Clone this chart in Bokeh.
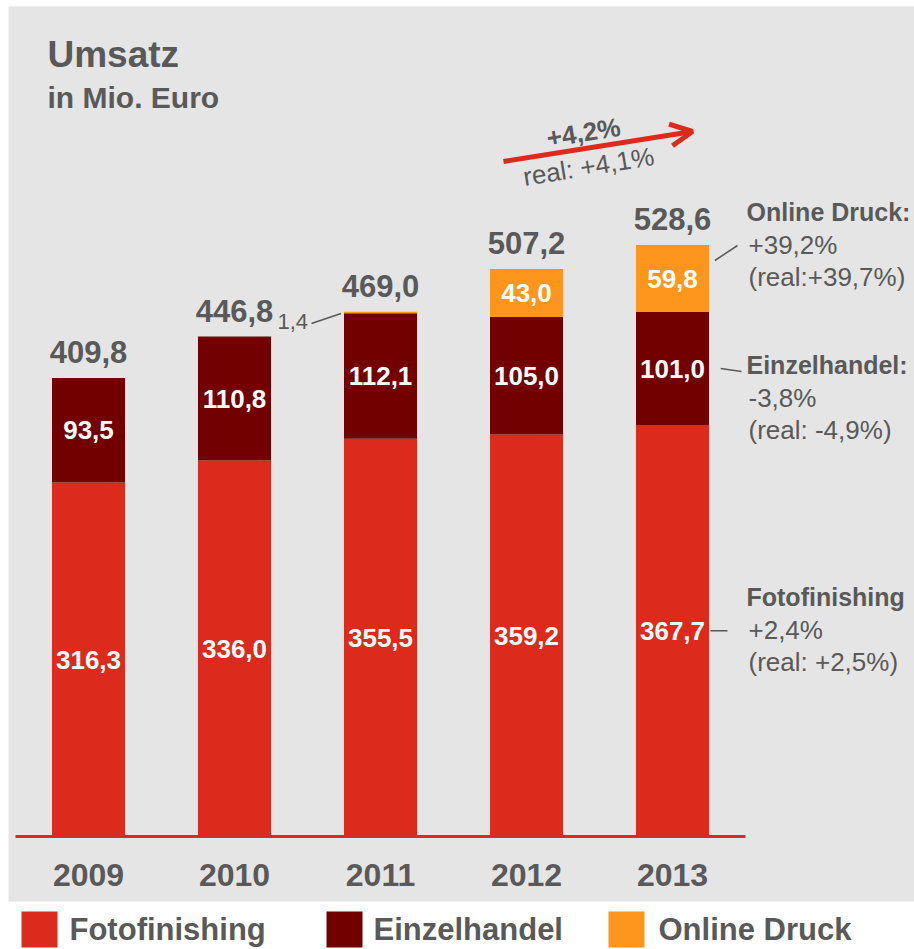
from bokeh.plotting import figure
from bokeh.models import Range1d, BoxAnnotation, Arrow, OpenHead, ColumnDataSource
from bokeh.core.properties import value
from bokeh.embed import file_html
from bokeh.resources import INLINE

# ---------------- data ----------------
years = ["2009", "2010", "2011", "2012", "2013"]
fotofinishing = [316.3, 336.0, 355.5, 359.2, 367.7]
einzelhandel = [93.5, 110.8, 112.1, 105.0, 101.0]
online_druck = [0.0, 0.0, 1.4, 43.0, 59.8]
totals = [409.8, 446.8, 469.0, 507.2, 528.6]
series_names = ["Fotofinishing", "Einzelhandel", "Online Druck"]
series_colors = ["#dc2a1c", "#720000", "#fe961e"]
growth_total = "+4,2%"
growth_total_real = "real: +4,1%"
growth_titles = ["Fotofinishing", "Einzelhandel:", "Online Druck:"]
growth = ["+2,4%", "-3,8%", "+39,2%"]
growth_real = ["(real: +2,5%)", "(real: -4,9%)", "(real:+39,7%)"]
title = "Umsatz"
subtitle = "in Mio. Euro"

# ---------------- geometry ----------------
W, H = 914, 949
PX_CAT = 146.0      # pixels per category step
PX_VAL = 1.119      # pixels per Mio. Euro
X0 = 88.0           # pixel x of first category centre
Y0 = 836.0          # pixel y of value 0
FONT = "Liberation Sans"
GRAY = "#595959"
RED = series_colors[0]


def px(xp):
    return (xp - X0) / PX_CAT


def py(yp):
    return (Y0 - yp) / PX_VAL


def fmt(v):
    return f"{v:.1f}".replace(".", ",")


p = figure(width=W, height=H,
           x_range=Range1d(px(0), px(W)), y_range=Range1d(py(H), py(0)),
           output_backend="svg", toolbar_location=None, min_border=0,
           x_axis_location=None, y_axis_location=None)
p.grid.visible = False
p.outline_line_color = None
p.background_fill_color = "white"
p.border_fill_color = "white"

p.add_layout(BoxAnnotation(left=px(8), top=py(6), bottom=py(901), fill_color="#e5e5e5",
                           fill_alpha=1.0, line_color=None, level="underlay"))

xs = list(range(len(years)))
src = ColumnDataSource(dict(x=xs, Fotofinishing=fotofinishing,
                            Einzelhandel=einzelhandel, **{"Online Druck": online_druck}))
p.vbar_stack(series_names, x="x", width=0.5, color=series_colors, line_color=None, source=src)

# baseline
p.segment(x0=[-0.5], y0=[0], x1=[len(years) - 0.5], y1=[0], line_color=RED, line_width=3)

# segment labels
lx, ly, lt = [], [], []
for i in xs:
    f, e, o = fotofinishing[i], einzelhandel[i], online_druck[i]
    lx.append(i); ly.append(f / 2); lt.append(fmt(f))
    lx.append(i); ly.append(f + e / 2); lt.append(fmt(e))
    if o >= 10:
        lx.append(i); ly.append(f + e + o / 2); lt.append(fmt(o))
p.text(x=lx, y=ly, text=lt, text_color="white", text_font=value(FONT),
       text_font_style="bold", text_font_size="26px", text_align="center",
       text_baseline="middle")

# totals
p.text(x=xs, y=totals, text=[fmt(t) for t in totals], y_offset=-26, text_color=GRAY,
       text_font=value(FONT), text_font_style="bold", text_font_size="31px",
       text_align="center", text_baseline="middle")

# small online value 2011
i_small = 2
p.text(x=[px(277)], y=[py(321)], text=[fmt(online_druck[i_small])], text_color=GRAY,
       text_font=value(FONT), text_font_size="22px", text_align="left",
       text_baseline="middle")
p.segment(x0=[px(311)], y0=[py(323)], x1=[i_small - 0.27], y1=[py(313)],
          line_color=GRAY, line_width=1.5)

# year labels
p.text(x=xs, y=[0] * len(xs), text=years, y_offset=38, text_color=GRAY,
       text_font=value(FONT), text_font_style="bold", text_font_size="32px",
       text_align="center", text_baseline="middle")

# title
p.text(x=[px(47)], y=[py(54)], text=[title], text_color=GRAY, text_font=value(FONT),
       text_font_style="bold", text_font_size="37px", text_baseline="middle")
p.text(x=[px(47)], y=[py(97)], text=[subtitle], text_color=GRAY, text_font=value(FONT),
       text_font_style="bold", text_font_size="30px", text_baseline="middle")

# growth arrow
p.add_layout(Arrow(end=OpenHead(size=22, line_color=RED, line_width=5),
                   x_start=px(503), y_start=py(161), x_end=px(692), y_end=py(131),
                   line_color=RED, line_width=5))
p.text(x=[px(583)], y=[py(132)], text=[growth_total], angle=0.16, text_color=GRAY,
       text_font=value(FONT), text_font_style="bold", text_font_size="26px",
       text_align="center", text_baseline="middle")
p.text(x=[px(588)], y=[py(166)], text=[growth_total_real], angle=0.16, text_color=GRAY,
       text_font=value(FONT), text_font_size="26px",
       text_align="center", text_baseline="middle")

# right-hand growth annotations
last = len(years) - 1
centre_y = [596, 364, 211]
for k in range(3):
    c = centre_y[k]
    p.text(x=[px(746)], y=[py(c)], text=[growth_titles[k]], text_color=GRAY,
           text_font=value(FONT), text_font_style="bold", text_font_size="25px",
           text_baseline="middle")
    p.text(x=[px(748), px(748)], y=[py(c + 33), py(c + 65)],
           text=[growth[k], growth_real[k]], text_color=GRAY,
           text_font=value(FONT), text_font_size="26px", text_baseline="middle")

f, e, o = fotofinishing[last], einzelhandel[last], online_druck[last]
p.segment(x0=[last + 0.26, last + 0.33, last + 0.29],
          y0=[f / 2, py(368), py(260)],
          x1=[px(727), px(741), px(737)],
          y1=[f / 2, py(371), py(245)],
          line_color=GRAY, line_width=1.5)

# legend
leg_sq_x = [39, 344, 626]
leg_tx_x = [69, 373, 658]
p.rect(x=[px(v) for v in leg_sq_x], y=[py(929)] * 3, width=36, height=36,
       width_units="screen", height_units="screen", color=series_colors, line_color=None)
p.text(x=[px(v) for v in leg_tx_x], y=[py(929)] * 3, text=series_names, text_color=GRAY,
       text_font=value(FONT), text_font_style="bold", text_font_size="31px",
       text_baseline="middle")

open("out.html", "w").write(file_html(p, INLINE))
